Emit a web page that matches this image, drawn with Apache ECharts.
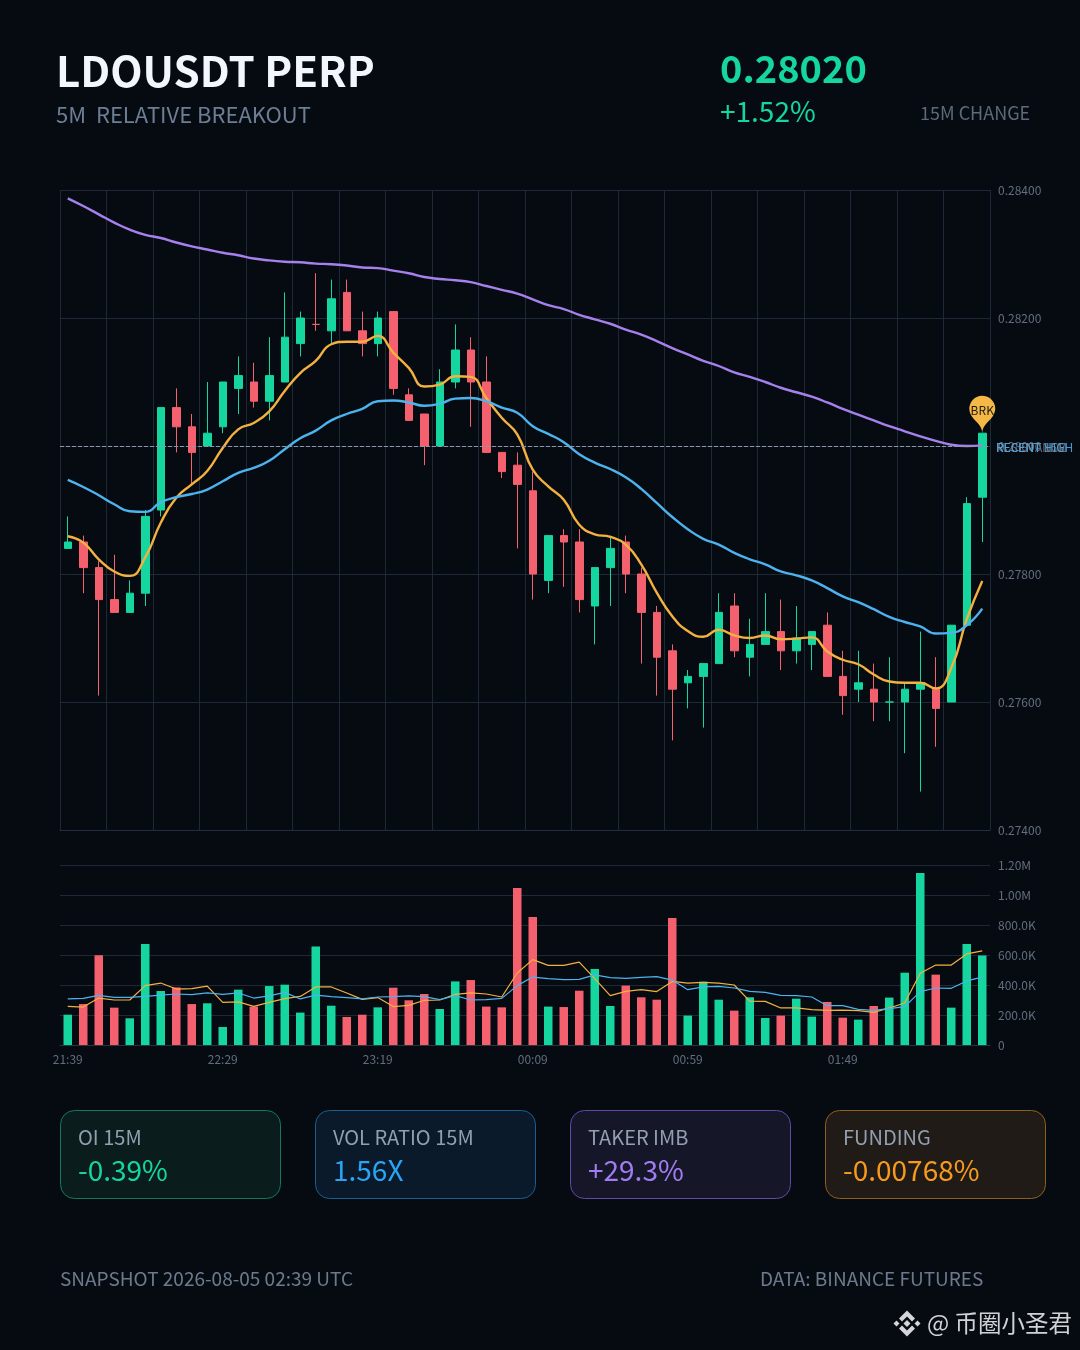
<!DOCTYPE html>
<html>
<head>
<meta charset="utf-8">
<style>html,body{margin:0;padding:0;background:#060b12}#c{width:1080px;height:1350px}</style>
<script src="https://cdn.jsdelivr.net/npm/echarts@6/dist/echarts.min.js"></script>
</head>
<body>
<div id="c"></div>
<script>
const categories = ["21:39","21:44","21:49","21:54","21:59","22:04","22:09","22:14","22:19","22:24","22:29","22:34","22:39","22:44","22:49","22:54","22:59","23:04","23:09","23:14","23:19","23:24","23:29","23:34","23:39","23:44","23:49","23:54","23:59","00:04","00:09","00:14","00:19","00:24","00:29","00:34","00:39","00:44","00:49","00:54","00:59","01:04","01:09","01:14","01:19","01:24","01:29","01:34","01:39","01:44","01:49","01:54","01:59","02:04","02:09","02:14","02:19","02:24","02:29","02:34"];
const opens = [.2784,.2785,.2781,.2776,.2774,.2777,.2790,.2806,.2803,.2800,.2803,.2809,.2810,.2807,.2810,.2816,.2819,.2818,.2824,.2818,.2816,.2821,.2808,.2805,.2800,.2810,.2815,.2810,.2799,.2797,.2793,.2779,.2786,.2785,.2775,.2781,.2785,.2780,.2774,.2768,.2763,.2764,.2766,.2775,.2767,.2769,.2771,.2768,.2769,.2772,.2764,.2762,.2762,.2760,.2760,.2762,.2762,.2760,.2772,.2792];
const closes = [.2785,.2781,.2776,.2774,.2777,.2789,.2806,.2803,.2799,.2802,.2810,.2811,.2807,.2811,.2817,.2820,.2819,.2823,.2818,.2816,.2820,.2809,.2804,.2800,.2810,.2815,.2810,.2799,.2796,.2794,.2780,.2786,.2785,.2776,.2781,.2784,.2780,.2774,.2767,.2762,.2764,.2766,.2774,.2768,.2769,.2771,.2768,.2770,.2771,.2764,.2761,.2763,.2760,.2760,.2762,.2763,.2759,.2772,.2791,.2802];
const highs = [.2789,.2786,.2782,.2783,.2779,.2790,.2806,.2809,.2805,.2810,.2810,.2814,.2813,.2817,.2824,.2821,.2827,.2826,.2826,.2821,.2821,.2821,.2809,.2805,.2812,.2819,.2817,.2814,.2799,.2799,.2796,.2786,.2787,.2787,.2781,.2786,.2786,.2781,.2775,.2769,.2765,.2766,.2777,.2777,.2773,.2777,.2776,.2775,.2771,.2774,.2768,.2768,.2766,.2767,.2763,.2771,.2767,.2772,.2792,.2802];
const lows = [.2784,.2777,.2761,.2774,.2774,.2775,.2789,.2799,.2794,.2800,.2802,.2805,.2806,.2804,.2810,.2814,.2818,.2816,.2818,.2814,.2814,.2808,.2804,.2797,.2800,.2809,.2803,.2799,.2795,.2784,.2776,.2777,.2778,.2774,.2769,.2775,.2777,.2766,.2761,.2754,.2759,.2756,.2766,.2767,.2764,.2769,.2765,.2766,.2765,.2764,.2758,.2760,.2757,.2757,.2752,.2746,.2753,.2760,.2772,.2785];
const maFast = [.27859,.27849,.27823,.27804,.27797,.27826,.27880,.27919,.27940,.27961,.27997,.28026,.28036,.28054,.28086,.28114,.28133,.28159,.28163,.28163,.28172,.28146,.28122,.28093,.28096,.28109,.28108,.28075,.28044,.28018,.27963,.27937,.27916,.27877,.27862,.27858,.27846,.27815,.27771,.27734,.27711,.27702,.27713,.27704,.27700,.27704,.27698,.27699,.27701,.27679,.27666,.27659,.27643,.27632,.27630,.27630,.27621,.27653,.27729,.27789];
const maMid = [.27947,.27936,.27923,.27909,.27898,.27897,.27912,.27920,.27925,.27932,.27945,.27958,.27966,.27977,.27995,.28012,.28024,.28040,.28050,.28058,.28070,.28071,.28068,.28063,.28066,.28074,.28075,.28070,.28060,.28052,.28031,.28019,.28006,.27987,.27974,.27964,.27951,.27933,.27911,.27889,.27870,.27855,.27846,.27833,.27823,.27815,.27804,.27798,.27790,.27778,.27765,.27756,.27745,.27733,.27725,.27718,.27707,.27708,.27720,.27746];
const maSlow = [.28387,.28375,.28362,.28349,.28338,.28330,.28325,.28318,.28312,.28307,.28302,.28298,.28293,.28290,.28288,.28287,.28285,.28284,.28282,.28279,.28278,.28274,.28270,.28264,.28261,.28259,.28256,.28250,.28244,.28238,.28229,.28220,.28214,.28205,.28198,.28191,.28182,.28174,.28164,.28153,.28143,.28133,.28125,.28115,.28108,.28100,.28091,.28084,.28077,.28068,.28058,.28049,.28040,.28031,.28023,.28015,.28008,.28002,.28000,.28001];
const volumes = [202,273,598,249,178,673,360,384,273,278,120,369,256,393,402,216,656,262,187,202,251,382,298,340,240,424,433,256,251,1047,853,256,253,362,507,260,396,318,302,847,196,422,302,229,318,180,196,309,189,287,182,169,260,316,482,1147,469,249,673,596].map(v => v * 1000);
const volFast = [258,253,313,300,300,396,413,373,376,393,284,287,258,284,309,324,387,387,347,304,316,256,264,298,300,338,347,340,320,480,569,531,531,553,442,329,358,369,356,424,413,418,413,400,293,291,247,247,236,231,233,229,218,247,280,478,533,533,607,627].map(v => v * 1000);
const volSlow = [307,311,331,318,318,324,333,340,336,347,338,347,313,327,351,307,333,322,316,307,320,322,327,322,302,329,300,302,311,396,453,442,436,438,467,449,444,451,456,433,369,387,391,380,358,351,331,329,320,262,262,238,231,242,256,356,380,378,427,453].map(v => v * 1000);
const priceTickMin = 0.274, priceTickMax = 0.284, priceTickStep = 0.002;
const refLevel = 0.28;
const refLabels = ["RESISTANCE", "RECENT 15M", "RECENT HIGH"];
const breakoutLabel = "BRK";

const GREEN = '#15d69f', RED = '#f5606e', ORANGE = '#f4b13f', BLUE = '#4db3ee', PURPLE = '#a680ec';
const GRID = '#1e2938', AXIS_TXT = '#636e7d';
const FONT = '"Noto Sans CJK SC","Noto Sans",sans-serif';

const ohlc = categories.map((_, i) => {
  const sign = closes[i] > opens[i] ? 1 : closes[i] < opens[i] ? -1 : (i > 0 && closes[i - 1] > closes[i] ? -1 : 1);
  const item = { value: [opens[i], closes[i], lows[i], highs[i]] };
  if (opens[i] === closes[i]) {
    item.itemStyle = { color: sign > 0 ? GREEN : RED, color0: sign > 0 ? GREEN : RED,
      borderColor: sign > 0 ? GREEN : RED, borderColor0: sign > 0 ? GREEN : RED,
      borderColorDoji: sign > 0 ? GREEN : RED };
  }
  return item;
});
const volBars = volumes.map((v, i) => ({ value: v, itemStyle: { color: closes[i] >= opens[i] ? GREEN : RED } }));

function txt(x, y, s, size, color, weight) {
  return { type: 'text', silent: true, x, y, style: { text: s, fontSize: size, fontFamily: FONT, fontWeight: weight || 400, fill: color, verticalAlign: 'middle', align: 'left' } };
}
function card(x, bg, border, label, value, color) {
  return [
    { type: 'rect', silent: true, shape: { x: x + .5, y: 1110.5, width: 220, height: 88, r: 14 }, style: { fill: bg, stroke: border, lineWidth: 1 } },
    txt(x + 18, 1137, label, 20, '#939fb1'),
    txt(x + 18, 1170, value, 28, color)
  ];
}
function poly(pts) {
  return { type: 'polygon', silent: true, shape: { points: pts.map(p => [907 + p[0], 1323.5 + p[1]]) }, style: { fill: '#d4d6da' } };
}
const graphics = [
  txt(56, 71, 'LDOUSDT PERP', 42, '#f3f6fd', 700),
  txt(56, 115, '5M  RELATIVE BREAKOUT', 22, '#6c7d94'),
  txt(720, 69, '0.28020', 38, GREEN, 700),
  txt(720, 111, '+1.52%', 28, GREEN),
  txt(920, 113, '15M CHANGE', 18, '#5d6a7b'),
  ...card(60, '#0b1c1d', '#14795c', 'OI 15M', '-0.39%', '#15d69f'),
  ...card(315, '#0a1a2a', '#1c5f8e', 'VOL RATIO 15M', '1.56X', '#28a5f5'),
  ...card(570, '#161629', '#5f4aa6', 'TAKER IMB', '+29.3%', '#a27cf2'),
  ...card(825, '#201b17', '#8f5f1c', 'FUNDING', '-0.00768%', '#f79a1e'),
  txt(60, 1279, 'SNAPSHOT 2026-08-05 02:39 UTC', 19, '#6d7a8c'),
  txt(760, 1279, 'DATA: BINANCE FUTURES', 19, '#6d7a8c'),
  poly([[0,-13],[8,-5],[5,-2],[0,-7],[-5,-2],[-8,-5]]),
  poly([[0,13],[8,5],[5,2],[0,7],[-5,2],[-8,5]]),
  poly([[0,-3.5],[3.5,0],[0,3.5],[-3.5,0]]),
  poly([[-10.5,-3],[-7.5,0],[-10.5,3],[-13.5,0]]),
  poly([[10.5,-3],[13.5,0],[10.5,3],[7.5,0]]),
  txt(927, 1323, '@ 币圈小圣君', 23.5, '#d0d2d6')
];

const chart = echarts.init(document.getElementById('c'), null, { renderer: 'canvas', width: 1080, height: 1350 });
chart.setOption({
  animation: false,
  backgroundColor: '#060b12',
  textStyle: { fontFamily: FONT },
  graphic: graphics,
  grid: [
    { left: 60, top: 190, width: 930, height: 640 },
    { left: 60, top: 865, width: 930, height: 180 }
  ],
  xAxis: [
    { type: 'category', gridIndex: 0, data: categories, boundaryGap: true,
      axisLabel: { show: false }, axisTick: { show: false },
      axisLine: { lineStyle: { color: '#222e40' } },
      splitLine: { show: true, interval: 2, lineStyle: { color: GRID, width: 1 } } },
    { type: 'category', gridIndex: 1, data: categories, boundaryGap: true,
      axisTick: { show: false },
      axisLine: { lineStyle: { color: '#2a3443' } },
      axisLabel: { interval: 9, color: AXIS_TXT, fontSize: 12, margin: 8 },
      splitLine: { show: false } }
  ],
  yAxis: [
    { type: 'value', gridIndex: 0, position: 'right', min: priceTickMin, max: priceTickMax, interval: priceTickStep,
      axisLine: { show: false }, axisTick: { show: false },
      axisLabel: { color: AXIS_TXT, fontSize: 12, margin: 8, formatter: v => v.toFixed(5) },
      splitLine: { lineStyle: { color: GRID, width: 1 } } },
    { type: 'value', gridIndex: 1, position: 'right', min: 0, max: 1200000, interval: 200000,
      axisLine: { show: false }, axisTick: { show: false },
      axisLabel: { color: AXIS_TXT, fontSize: 12, margin: 8,
        formatter: v => v === 0 ? '0' : v >= 1e6 ? (v / 1e6).toFixed(2) + 'M' : (v / 1e3).toFixed(1) + 'K' },
      splitLine: { lineStyle: { color: GRID, width: 1 } } }
  ],
  series: [
    { type: 'candlestick', xAxisIndex: 0, yAxisIndex: 0, data: ohlc, barWidth: 8, z: 2,
      itemStyle: { color: GREEN, color0: RED, borderColor: GREEN, borderColor0: RED, borderWidth: 1 },
      markLine: { silent: true, symbol: 'none', z: 4,
        lineStyle: { type: 'dashed', color: '#8d97ab', width: 1, opacity: .9 },
        data: refLabels.map((name, k) => ({ yAxis: refLevel, name,
          label: { show: true, position: 'end', distance: 6, offset: [0, 1], formatter: name, fontSize: 12, fontFamily: FONT,
            color: k === 2 ? '#4aa8e6' : '#6f7a8c' } })) },
      markPoint: { silent: true, symbol: 'pin', symbolSize: 43, z: 6,
        itemStyle: { color: '#f6b845' },
        label: { show: true, formatter: breakoutLabel, color: '#1c1a16', fontSize: 12, fontFamily: FONT },
        data: [{ coord: [categories.length - 1, highs[highs.length - 1]] }] } },
    { type: 'line', xAxisIndex: 0, yAxisIndex: 0, data: maFast, smooth: true, showSymbol: false, z: 3, lineStyle: { color: ORANGE, width: 2.4 } },
    { type: 'line', xAxisIndex: 0, yAxisIndex: 0, data: maMid, smooth: true, showSymbol: false, z: 3, lineStyle: { color: BLUE, width: 2.4 } },
    { type: 'line', xAxisIndex: 0, yAxisIndex: 0, data: maSlow, smooth: true, showSymbol: false, z: 3, lineStyle: { color: PURPLE, width: 2.4 } },
    { type: 'bar', xAxisIndex: 1, yAxisIndex: 1, data: volBars, barWidth: 8.5, z: 2 },
    { type: 'line', xAxisIndex: 1, yAxisIndex: 1, data: volFast, showSymbol: false, z: 3, lineStyle: { color: ORANGE, width: 1.2 } },
    { type: 'line', xAxisIndex: 1, yAxisIndex: 1, data: volSlow, showSymbol: false, z: 3, lineStyle: { color: BLUE, width: 1.2 } }
  ]
});
</script>
</body>
</html>
